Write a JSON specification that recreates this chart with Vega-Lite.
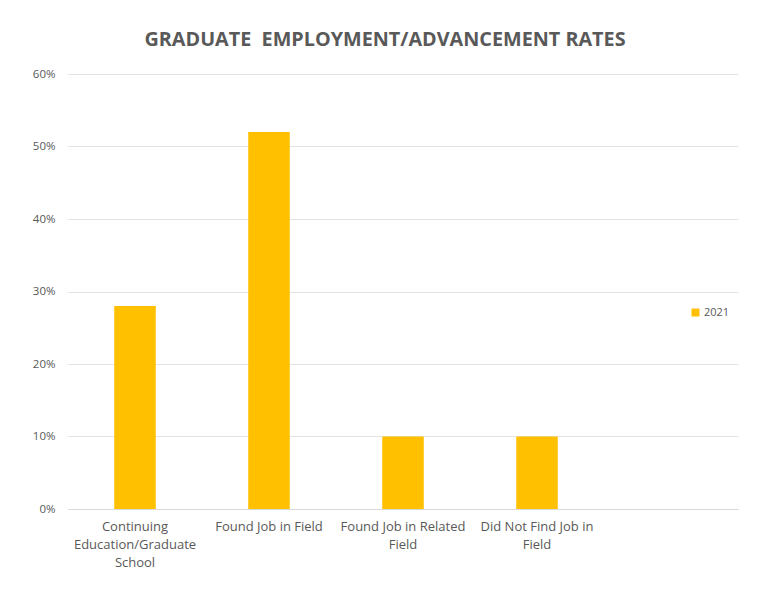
{
  "$schema": "https://vega.github.io/schema/vega-lite/v6.json",
  "autosize": "none",
  "width": 670,
  "height": 435,
  "padding": {"left": 68, "top": 74, "right": 30, "bottom": 105},
  "background": "white",
  "config": {
    "view": {"stroke": null},
    "font": "Open Sans"
  },
  "title": {
    "text": "GRADUATE \u00a0EMPLOYMENT/ADVANCEMENT RATES",
    "font": "Open Sans",
    "fontSize": 19.8,
    "fontWeight": "bold",
    "color": "#595959",
    "anchor": "middle",
    "dx": -18,
    "offset": 18
  },
  "data": {
    "values": [
      {"category": "Continuing Education/Graduate School", "year": "2021", "rate": 0.28},
      {"category": "Found Job in Field", "year": "2021", "rate": 0.52},
      {"category": "Found Job in Related Field", "year": "2021", "rate": 0.10},
      {"category": "Did Not Find Job in Field", "year": "2021", "rate": 0.10}
    ]
  },
  "mark": {"type": "bar", "color": "#FFC000"},
  "encoding": {
    "x": {
      "field": "category",
      "type": "nominal",
      "sort": null,
      "scale": {
        "domain": ["Continuing Education/Graduate School", "Found Job in Field", "Found Job in Related Field", "Did Not Find Job in Field", " "],
        "paddingInner": 0.69,
        "paddingOuter": 0.345
      },
      "axis": {
        "title": null,
        "labelAngle": 0,
        "labelFont": "Open Sans",
        "labelFontSize": 13,
        "labelColor": "#595959",
        "labelLineHeight": 18,
        "labelPadding": 11,
        "labelLimit": 200,
        "ticks": false,
        "domainColor": "#d9d9d9",
        "labelBaseline": "top",
        "labelExpr": "datum.value == 'Continuing Education/Graduate School' ? ['Continuing', 'Education/Graduate', 'School'] : datum.value == 'Found Job in Related Field' ? ['Found Job in Related', 'Field'] : datum.value == 'Did Not Find Job in Field' ? ['Did Not Find Job in', 'Field'] : datum.value"
      }
    },
    "y": {
      "field": "rate",
      "type": "quantitative",
      "scale": {"domain": [0, 0.6]},
      "axis": {
        "title": null,
        "values": [0, 0.1, 0.2, 0.3, 0.4, 0.5, 0.6],
        "format": ".0%",
        "domain": false,
        "ticks": false,
        "labelFont": "Open Sans",
        "labelFontSize": 11.5,
        "labelColor": "#595959",
        "labelPadding": 13,
        "gridColor": "#e3e3e3",
        "gridWidth": 1
      }
    },
    "color": {
      "field": "year",
      "type": "nominal",
      "scale": {"range": ["#FFC000"]},
      "legend": {
        "title": null,
        "orient": "none",
        "legendX": 622,
        "legendY": 233,
        "symbolType": "square",
        "symbolSize": 64,
        "symbolStrokeWidth": 0,
        "labelFont": "Open Sans",
        "labelFontSize": 11,
        "labelColor": "#595959",
        "labelOffset": 3
      }
    }
  }
}
